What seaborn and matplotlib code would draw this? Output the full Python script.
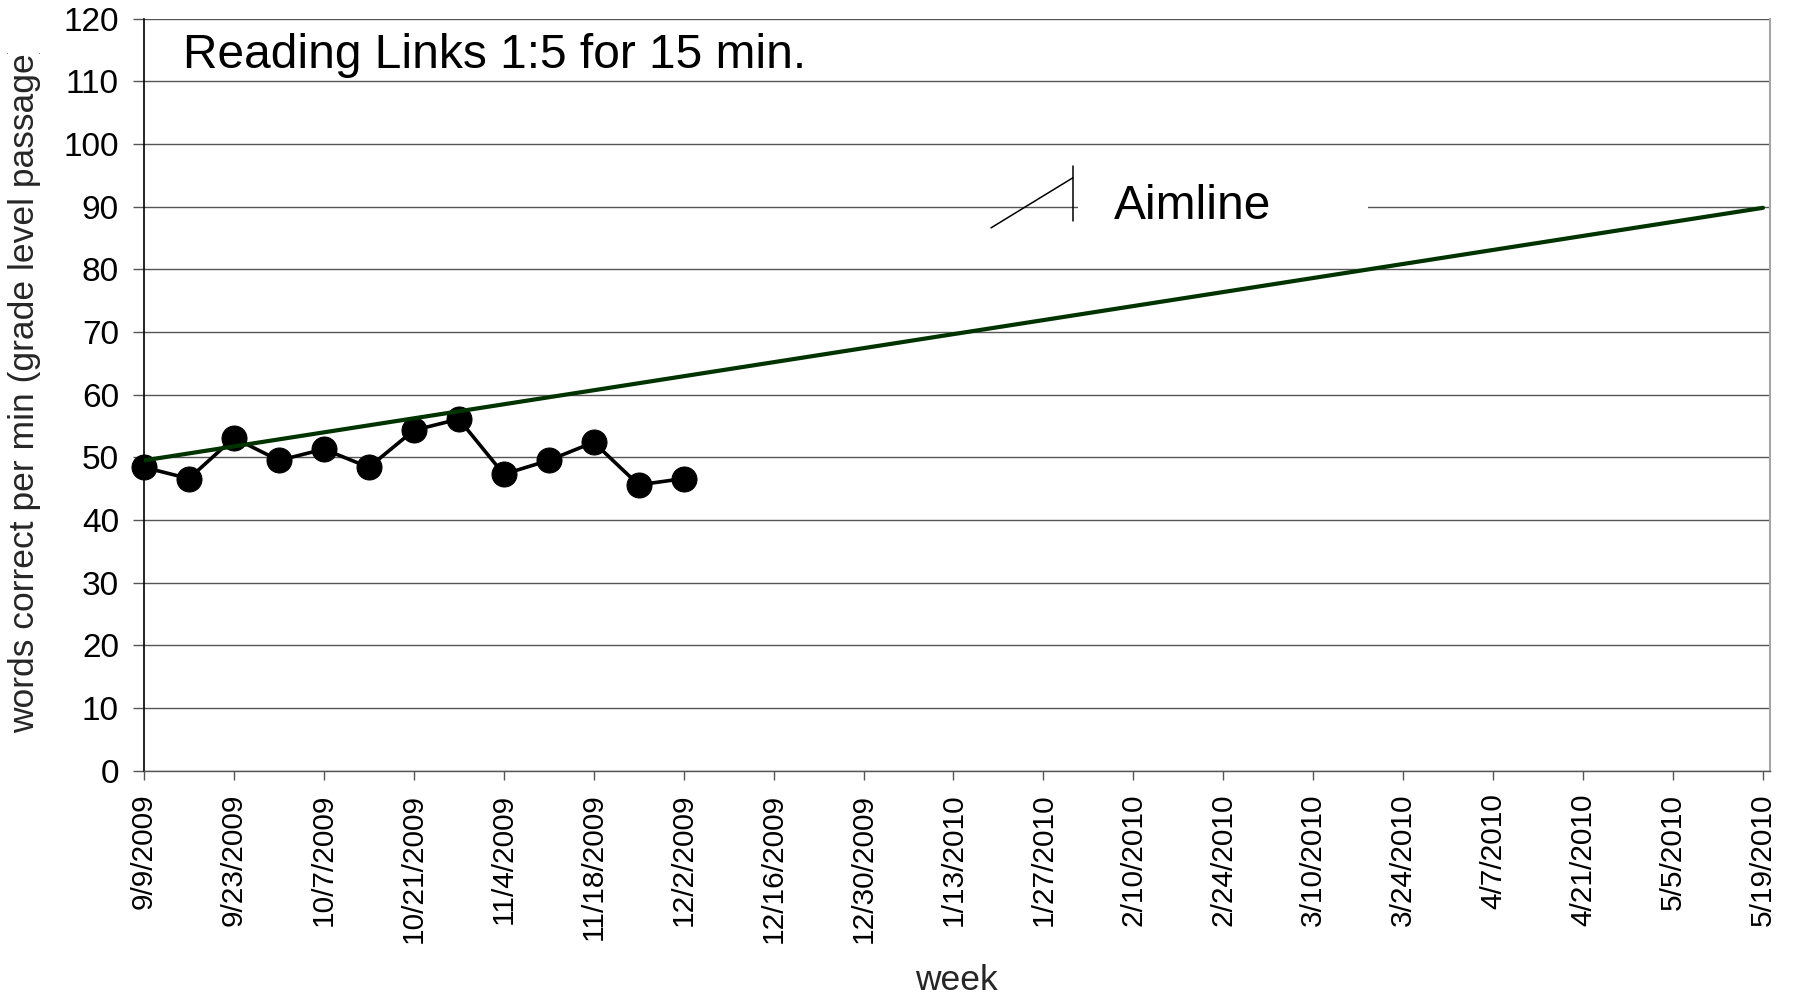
import seaborn as sns
import matplotlib.pyplot as plt
import pandas as pd
from matplotlib.patches import Rectangle
from matplotlib.transforms import Bbox

# weekly reading scores
score_dates = ['9/9/2009', '9/16/2009', '9/23/2009', '9/30/2009', '10/7/2009',
               '10/14/2009', '10/21/2009', '10/28/2009', '11/4/2009',
               '11/11/2009', '11/18/2009', '11/25/2009', '12/2/2009']
scores = [48.4, 46.6, 53.1, 49.5, 51.3, 48.4, 54.3, 56.1, 47.3, 49.5, 52.4, 45.6, 46.6]

# aimline end points
aim_dates = ['9/9/2009', '5/19/2010']
aim_values = [49.5, 89.8]

tick_labels = ['9/9/2009', '9/23/2009', '10/7/2009', '10/21/2009', '11/4/2009',
               '11/18/2009', '12/2/2009', '12/16/2009', '12/30/2009', '1/13/2010',
               '1/27/2010', '2/10/2010', '2/24/2010', '3/10/2010', '3/24/2010',
               '4/7/2010', '4/21/2010', '5/5/2010', '5/19/2010']
y_ticks = list(range(0, 121, 10))

fmt = '%m/%d/%Y'
score_x = pd.to_datetime(score_dates, format=fmt)
aim_x = pd.to_datetime(aim_dates, format=fmt)
tick_x = pd.to_datetime(tick_labels, format=fmt)

sns.set_theme(style='white')
plt.rcParams['font.family'] = ['Liberation Sans', 'DejaVu Sans']

fig = plt.figure(figsize=(17.95, 9.97), dpi=100)
ax = fig.add_axes([0.0802, 0.227, 0.9059, 0.7544])

sns.lineplot(x=score_x, y=scores, color='black', marker='o', markersize=18,
             markeredgecolor='black', linewidth=2.6, clip_on=False, zorder=3, ax=ax)
sns.lineplot(x=aim_x, y=aim_values, color='#003300', linewidth=3, zorder=4, ax=ax)

ax.set_xlim(tick_x[0], tick_x[-1] + pd.Timedelta(days=1.1))
ax.set_ylim(0, 120)
ax.set_xticks(tick_x)
ax.set_xticklabels(tick_labels, rotation=90)
ax.set_yticks(y_ticks)
ax.set_xlabel('')
ax.set_ylabel('')

ax.yaxis.grid(True, color='#555555', linewidth=1)
ax.xaxis.grid(False)
ax.tick_params(axis='y', length=8, width=1, color='#555555', labelsize=24,
               pad=10, left=True, labelcolor='black')
ax.tick_params(axis='x', length=6.5, width=1, color='#555555', labelsize=21.5,
               pad=10, bottom=True, labelcolor='black')

ax.spines['top'].set_visible(False)
ax.spines['left'].set_color('black')
ax.spines['left'].set_linewidth(1.2)
ax.spines['bottom'].set_color('#555555')
ax.spines['bottom'].set_linewidth(1)
ax.spines['right'].set_color('#a6a6a6')
ax.spines['right'].set_linewidth(1.5)

ax.text(0.024, 0.951, 'Reading Links 1:5 for 15 min.', transform=ax.transAxes,
        fontsize=34.5, ha='left', va='center', color='black')

# Aimline label: white box breaks the 90 gridline, with small callout strokes
yt = ax.get_yaxis_transform()
ax.add_patch(Rectangle((0.5744, 86), 0.1784, 8, transform=yt,
                       facecolor='white', edgecolor='none', zorder=1))
ax.text(0.5966, 90, 'Aimline', transform=yt, fontsize=34.5,
        ha='left', va='center', color='black', zorder=2)
ax.plot([0.5209, 0.5713], [86.6, 94.6], transform=yt, color='black', lw=1.1)
ax.plot([0.5713, 0.5713], [87.7, 96.4], transform=yt, color='black', lw=1.1)

fig.text(0.5326, 0.017, 'week', fontsize=25.5, ha='center', va='center')
ylab = fig.text(0.0139, 0.265, 'words correct per min (grade level passage)',
                fontsize=25.5, rotation=90, ha='center', va='bottom')
ylab.set_clip_box(Bbox.from_extents(0, 0, 1795, 944))
ylab.set_clip_on(True)

plt.savefig('out.png', dpi=100)
